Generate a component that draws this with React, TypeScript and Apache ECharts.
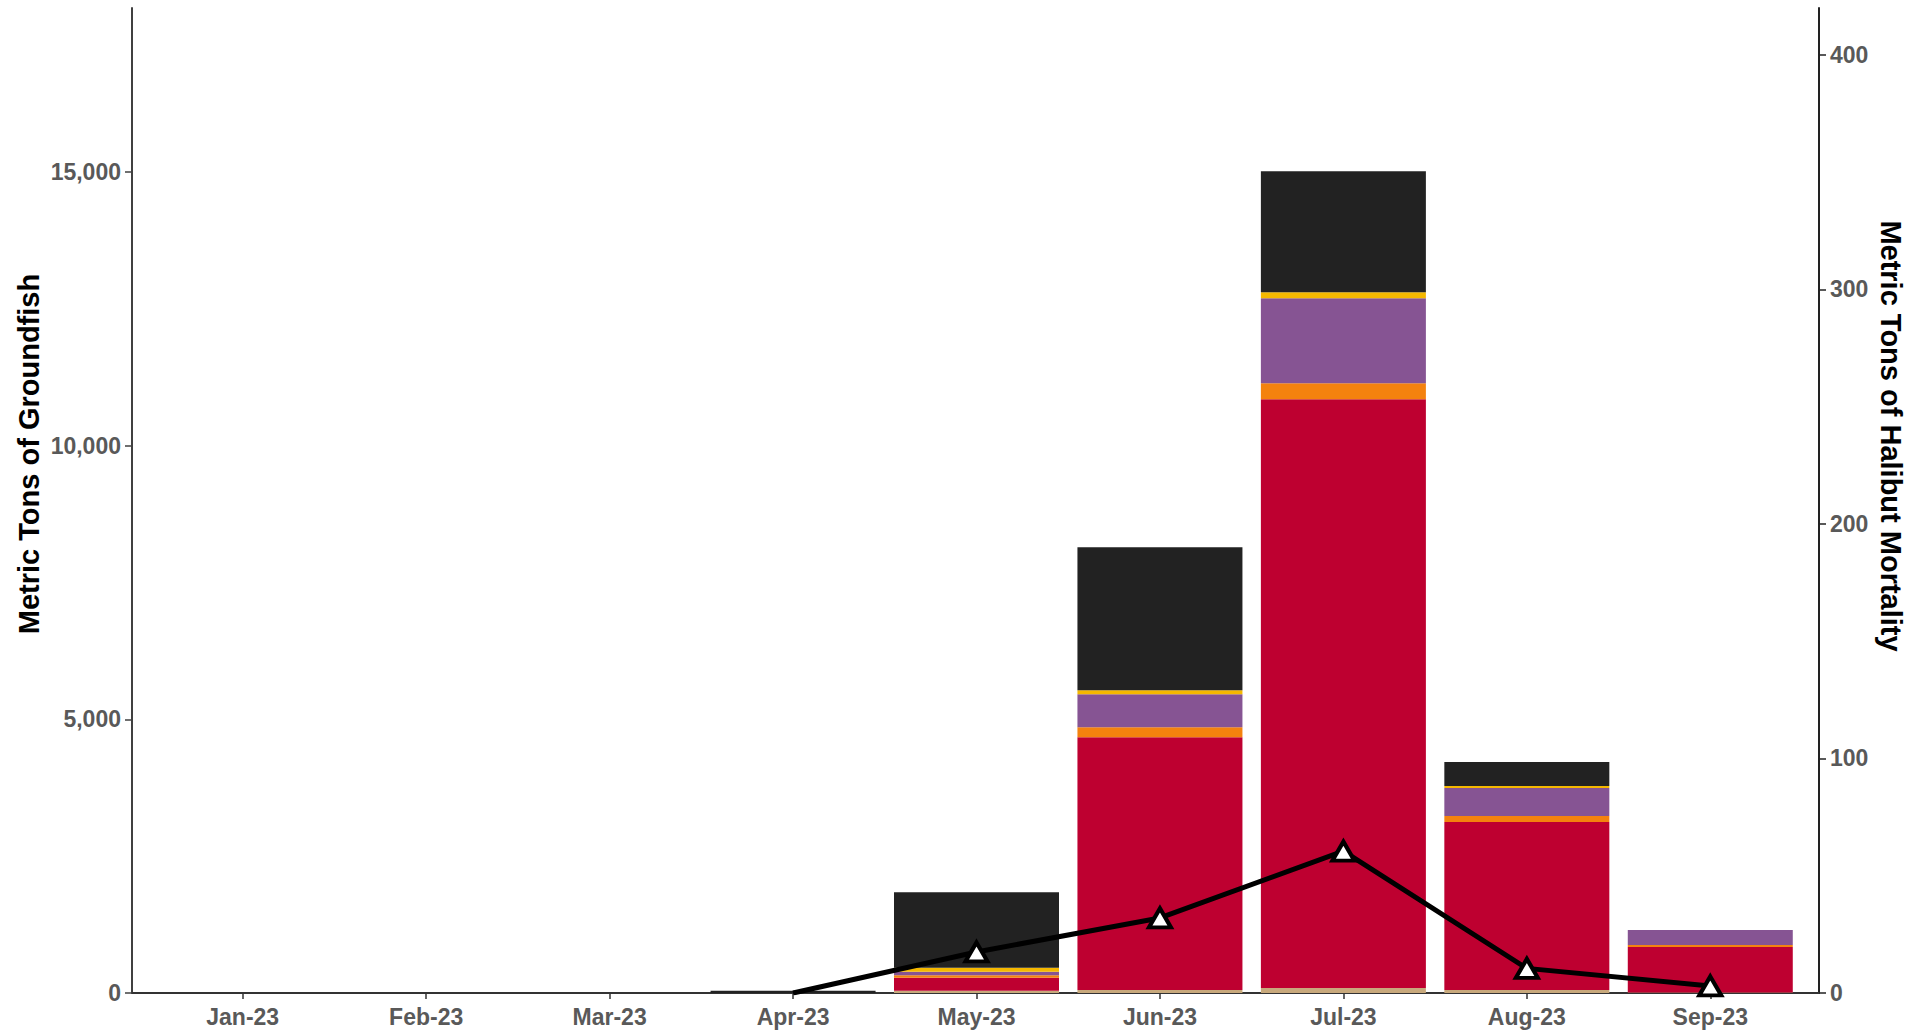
import React, { useEffect, useRef } from "react";
import * as echarts from "echarts";

const months = ["Jan-23", "Feb-23", "Mar-23", "Apr-23", "May-23", "Jun-23", "Jul-23", "Aug-23", "Sep-23"];
const tanVals = [0, 0, 0, 0, 42, 55, 90, 55, 10];
const redVals = [0, 0, 0, 0, 237, 4620, 10760, 3070, 830];
const orangeVals = [0, 0, 0, 0, 45, 183, 292, 110, 37];
const purpleVals = [0, 0, 0, 0, 65, 603, 1553, 512, 274];
const yellowVals = [0, 0, 0, 0, 73, 73, 110, 37, 0];
const blackVals = [0, 0, 0, 40, 1380, 2613, 2211, 438, 0];
const halibutVals: (number | null)[] = [null, null, null, 0, 17.5, 32, 60.5, 10.5, 3];
const leftTicks = [0, 5000, 10000, 15000];
const rightTicks = [0, 100, 200, 300, 400];

const layers = [
  { name: "Tan", values: tanVals, color: "#C8A97C" },
  { name: "Red", values: redVals, color: "#BE0030" },
  { name: "Orange", values: orangeVals, color: "#F4820E" },
  { name: "Purple", values: purpleVals, color: "#865493" },
  { name: "Yellow", values: yellowVals, color: "#F5B800" },
  { name: "Black", values: blackVals, color: "#222222" },
];

const labelFont = {
  fontFamily: "'Liberation Sans', Arial, sans-serif",
  fontWeight: "bold" as const,
  fontSize: 23,
  color: "#595959",
};

export default function App() {
  const ref = useRef<HTMLDivElement>(null);
  useEffect(() => {
    document.body.style.margin = "0";
    if (!ref.current) return;
    const chart = echarts.init(ref.current, null, { renderer: "svg" });
    const barSeries = layers.map((l) => ({
      name: l.name,
      type: "bar",
      stack: "total",
      xAxisIndex: 0,
      yAxisIndex: 0,
      barWidth: 165,
      itemStyle: { color: l.color },
      data: l.values,
    }));
    const lineData = halibutVals.map((v, i) =>
      v === null ? null : i === 3 ? { value: v, symbol: "none" } : v
    );
    chart.setOption({
      animation: false,
      grid: [
        { left: 151, right: 116, top: 8, bottom: 41 },
        { left: 132, right: 99, top: 8, bottom: 41 },
      ],
      xAxis: [
        {
          type: "category",
          gridIndex: 0,
          data: months,
          boundaryGap: true,
          axisLine: { show: false },
          axisTick: { show: true, alignWithLabel: true, length: 6, lineStyle: { color: "#333333", width: 1.5 } },
          splitLine: { show: false },
          axisLabel: { ...labelFont, margin: 12, interval: 0 },
        },
        {
          type: "value",
          gridIndex: 1,
          min: 0,
          max: 1,
          axisLine: { show: true, onZero: false, lineStyle: { color: "#333333", width: 2 } },
          axisTick: { show: false },
          axisLabel: { show: false },
          splitLine: { show: false },
        },
      ],
      yAxis: [
        {
          type: "value",
          gridIndex: 0,
          min: 0,
          max: 18000,
          position: "left",
          offset: 19,
          axisLine: { show: true, onZero: false, lineStyle: { color: "#404040", width: 2 } },
          axisTick: { show: true, customValues: leftTicks, length: 7, lineStyle: { color: "#404040", width: 1.5 } },
          splitLine: { show: false },
          axisLabel: {
            ...labelFont,
            customValues: leftTicks,
            margin: 11,
            formatter: (v: number) => v.toLocaleString("en-US"),
          },
        },
        {
          type: "value",
          gridIndex: 0,
          min: 0,
          max: 420,
          position: "right",
          offset: 17,
          axisLine: { show: true, onZero: false, lineStyle: { color: "#222222", width: 2 } },
          axisTick: { show: true, customValues: rightTicks, length: 7, lineStyle: { color: "#222222", width: 1.5 } },
          splitLine: { show: false },
          axisLabel: { ...labelFont, customValues: rightTicks, margin: 11 },
        },
        {
          type: "value",
          gridIndex: 1,
          min: 0,
          max: 1,
          show: false,
        },
      ],
      series: [
        ...barSeries,
        {
          name: "Halibut Mortality",
          type: "line",
          xAxisIndex: 0,
          yAxisIndex: 1,
          z: 5,
          symbol: "triangle",
          symbolSize: [22, 19],
          lineStyle: { color: "#000000", width: 5 },
          itemStyle: { color: "#FFFFFF", borderColor: "#000000", borderWidth: 4 },
          data: lineData,
        },
      ],
      graphic: [
        {
          type: "text",
          x: 29,
          y: 454,
          rotation: Math.PI / 2,
          style: {
            text: "Metric Tons of Groundfish",
            fontFamily: "'Liberation Sans', Arial, sans-serif",
            fontWeight: "bold",
            fontSize: 29,
            fill: "#000000",
            align: "center",
            verticalAlign: "middle",
          },
        },
        {
          type: "text",
          x: 1891,
          y: 436,
          rotation: -Math.PI / 2,
          style: {
            text: "Metric Tons of Halibut Mortality",
            fontFamily: "'Liberation Sans', Arial, sans-serif",
            fontWeight: "bold",
            fontSize: 29,
            fill: "#000000",
            align: "center",
            verticalAlign: "middle",
          },
        },
      ],
    });
    return () => chart.dispose();
  }, []);
  return <div ref={ref} style={{ width: 1918, height: 1034 }} />;
}
